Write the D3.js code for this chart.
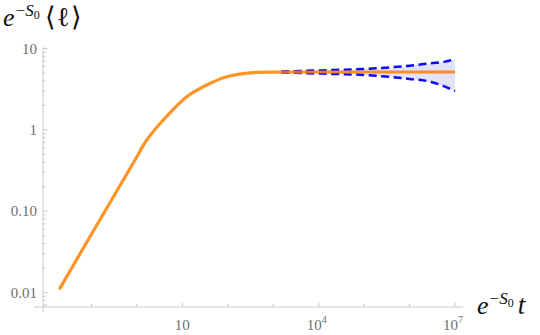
<!DOCTYPE html>
<html>
<head>
<meta charset="utf-8">
<script src="https://cdn.jsdelivr.net/npm/d3@7"></script>
<style>
  body { margin: 0; background: #fff; }
  svg { display: block; }
</style>
</head>
<body>
<div id="container"></div>
<script>
// e^{-S0} t  vs  e^{-S0} <l>
var tVals = [0.0196, 0.1324, 0.910, 1.644, 3.81, 12.5, 34.4, 94.8, 365, 1413, 1e4, 1e5, 1e6, 1e7];
var lVals = [0.01094, 0.0681, 0.4256, 0.750, 1.32, 2.55, 3.56, 4.50, 5.05, 5.12, 5.14, 5.14, 5.14, 5.14];

// spread band
var bandT  = [1.5e3, 1e4, 1e5, 1e6, 3e6, 6e6, 1e7];
var bandHi = [5.2, 5.38, 5.6, 6.15, 6.6, 6.9, 7.4];
var bandLo = [5.08, 4.92, 4.72, 4.23, 3.88, 3.4, 3.0];

var xTicks = [1e-2, 1e-1, 1, 10, 100, 1e3, 1e4, 1e5, 1e6, 1e7];
var xLabels = {10: ['10', ''], 10000: ['10', '4'], 10000000: ['10', '7']};
var yTicks = [0.01, 0.1, 1, 10];
var yLabels = ['0.01', '0.10', '1', '10'];

var width = 540,
	height = 335;

var serif = "'Liberation Serif'";

var axisColor = '#c8c8c8',
	labelColor = '#6e6e6e';

var svg = d3.select('#container').append('svg')
			.attr('width', width)
			.attr('height', height);

var x = d3.scaleLog()
			.domain([1e-2, 1e7])
			.range([46, 455]);

var y = d3.scaleLog()
			.domain([0.01, 10])
			.range([292.5, 48.5]);

var axisX = 43, axisY = 307;

// minor y ticks
var yMinor = [];
[-3, -2, -1, 0].forEach(function(k) {
	for (var m = 2; m <= 9; m++) {
		var v = m * Math.pow(10, k);
		if (y(v) <= axisY && y(v) >= 48) yMinor.push(v);
	}
});

var g = svg.append('g');

// axis lines
g.append('line')
	.attr('x1', 34).attr('x2', 463)
	.attr('y1', axisY).attr('y2', axisY)
	.attr('stroke', axisColor);
g.append('line')
	.attr('x1', axisX).attr('x2', axisX)
	.attr('y1', 47).attr('y2', 312)
	.attr('stroke', axisColor);

// x ticks
g.selectAll('.xt').data(xTicks).enter()
	.append('line')
	.attr('x1', function(d) { return x(d); })
	.attr('x2', function(d) { return x(d); })
	.attr('y1', axisY)
	.attr('y2', function(d) { return xLabels[d] ? axisY - 4.5 : axisY - 3; })
	.attr('stroke', axisColor);

var xl = g.selectAll('.xl').data(xTicks.filter(function(d) { return xLabels[d]; })).enter()
	.append('text')
	.attr('x', function(d) { return x(d) + (xLabels[d][1] ? -2 : 0); })
	.attr('y', 330)
	.attr('text-anchor', 'middle')
	.attr('fill', labelColor)
	.style('font-family', serif)
	.style('font-size', '15px');
xl.append('tspan').text(function(d) { return xLabels[d][0]; });
xl.append('tspan')
	.attr('dy', -7)
	.style('font-size', '10px')
	.text(function(d) { return xLabels[d][1]; });

// y ticks
g.selectAll('.ym').data(yMinor).enter()
	.append('line')
	.attr('x1', axisX).attr('x2', axisX + 2.5)
	.attr('y1', function(d) { return y(d); })
	.attr('y2', function(d) { return y(d); })
	.attr('stroke', axisColor);
g.selectAll('.yt').data(yTicks).enter()
	.append('line')
	.attr('x1', axisX).attr('x2', axisX + 4.5)
	.attr('y1', function(d) { return y(d); })
	.attr('y2', function(d) { return y(d); })
	.attr('stroke', axisColor);
g.selectAll('.yl').data(yTicks).enter()
	.append('text')
	.attr('x', 37)
	.attr('y', function(d) { return y(d) + 5; })
	.attr('text-anchor', 'end')
	.attr('fill', labelColor)
	.style('font-family', serif)
	.style('font-size', '15px')
	.text(function(d, i) { return yLabels[i]; });

// band
var bandData = bandT.map(function(t, i) { return { t: t, hi: bandHi[i], lo: bandLo[i] }; });

var area = d3.area()
	.x(function(d) { return x(d.t); })
	.y0(function(d) { return y(d.lo); })
	.y1(function(d) { return y(d.hi); })
	.curve(d3.curveMonotoneX);

g.append('path')
	.datum(bandData)
	.attr('d', area)
	.attr('fill', '#e2e2f9');

['hi', 'lo'].forEach(function(k) {
	g.append('path')
		.datum(bandData)
		.attr('d', d3.line()
			.x(function(d) { return x(d.t); })
			.y(function(d) { return y(d[k]); })
			.curve(d3.curveMonotoneX))
		.attr('fill', 'none')
		.attr('stroke', '#0a0aff')
		.attr('stroke-width', 2.5)
		.attr('stroke-dasharray', '8,4.5');
});

// main curve
var lineData = tVals.map(function(t, i) { return { t: t, l: lVals[i] }; });

var line = d3.line()
	.x(function(d) { return x(d.t); })
	.y(function(d) { return y(d.l); })
	.curve(d3.curveCatmullRom.alpha(0.5));

g.append('path')
	.datum(lineData)
	.attr('d', line)
	.attr('fill', 'none')
	.attr('stroke', '#ff8000')
	.attr('stroke-opacity', 0.85)
	.attr('stroke-width', 3.2);

// axis titles
function title(xp, yp, gap, tail, tailSize) {
	var t = svg.append('text')
		.attr('x', xp).attr('y', yp)
		.attr('fill', '#111')
		.style('font-family', serif)
		.style('font-size', '26px');
	t.append('tspan').style('font-style', 'italic').text('e');
	t.append('tspan').attr('dy', -10).attr('dx', 1).style('font-size', '17px').text('\u2212');
	t.append('tspan').style('font-size', '17px').style('font-style', 'italic').text('S');
	t.append('tspan').attr('dy', 3).style('font-size', '12px').text('0');
	t.append('tspan').attr('dy', 7).attr('dx', gap)
		.style('font-size', tailSize)
		.style('letter-spacing', '1px')
		.style('font-style', tail[1] ? 'italic' : 'normal')
		.text(tail[0]);
	return t;
}
title(3, 26, 5, ['\u27E8\u2113\u27E9', false], '27px');
title(477, 314, 4, ['t', true], '27px');
</script>
</body>
</html>
